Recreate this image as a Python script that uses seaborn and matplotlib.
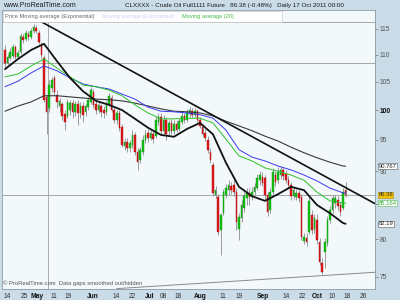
import numpy as np
import pandas as pd
import matplotlib
matplotlib.use("Agg")
import matplotlib.pyplot as plt
import seaborn as sns
from matplotlib.ticker import NullLocator
from matplotlib.patches import Rectangle

# ---------------- data (daily candles, Nov-2011 crude future) ----------------
opens = [110.9, 108.5, 109.4, 109.8, 111.5, 109.6, 110.5, 113.4, 113.0, 114.0,
         113.4, 114.6, 115.2, 114.2, 111.9, 109.4, 102.3, 100.4, 103.9, 105.7,
         102.6, 100.7, 101.1, 99.3, 99.0, 100.0, 101.2, 99.7, 101.1, 99.5,
         100.7, 99.7, 100.5, 101.4, 103.2, 101.1, 100.0, 100.7, 100.0, 99.7,
         101.1, 102.1, 100.0, 98.3, 99.5, 97.1, 94.0, 94.6, 93.7, 94.2,
         95.8, 93.0, 91.8, 93.0, 95.0, 96.1, 95.3, 96.0, 95.6, 98.0,
         98.8, 96.5, 98.3, 96.5, 97.8, 96.5, 97.6, 96.8, 98.0, 99.0,
         98.3, 99.3, 99.8, 99.2, 99.8, 98.3, 97.1, 96.1, 95.0, 93.0,
         91.0, 86.4, 86.1, 81.3, 83.7, 86.4, 87.1, 87.7, 87.9, 86.8,
         81.5, 83.0, 84.5, 85.9, 86.7, 86.1, 86.8, 87.4, 88.6, 89.1,
         88.9, 86.4, 84.2, 86.8, 89.4, 88.6, 89.4, 90.2, 89.6, 88.6,
         87.9, 86.2, 86.1, 86.7, 86.1, 79.8, 80.2, 81.0, 83.5, 81.5,
         82.7, 79.7, 76.8, 78.3, 79.5, 82.7, 84.2, 85.2, 85.6, 84.9,
         84.5, 87.1]
highs = [111.9, 110.2, 111.3, 112.1, 111.9, 110.9, 114.2, 114.0, 114.8, 114.6,
         115.2, 116.0, 115.8, 114.8, 112.5, 110.0, 102.6, 105.3, 105.9, 106.2,
         103.5, 102.1, 101.4, 100.0, 101.9, 101.8, 101.8, 101.6, 101.8, 101.4,
         101.4, 101.1, 102.3, 104.1, 103.7, 101.6, 101.4, 101.1, 100.7, 101.6,
         103.0, 102.6, 100.5, 100.0, 100.0, 97.6, 95.3, 95.3, 95.0, 96.6,
         96.3, 93.7, 93.8, 95.8, 96.6, 96.8, 96.8, 96.6, 99.0, 99.5,
         99.5, 99.2, 98.8, 98.3, 98.5, 98.3, 98.1, 98.6, 99.7, 99.5,
         100.2, 100.5, 100.4, 100.4, 100.2, 98.8, 97.6, 96.8, 95.6, 93.7,
         91.4, 87.7, 86.5, 83.7, 87.3, 88.0, 88.6, 88.3, 88.6, 87.4,
         83.7, 85.6, 86.8, 87.4, 87.4, 87.6, 88.2, 89.6, 90.0, 89.9,
         89.4, 86.8, 87.4, 90.5, 90.0, 90.6, 90.8, 90.6, 90.2, 89.3,
         88.3, 87.7, 87.3, 87.1, 86.5, 80.9, 80.9, 86.1, 84.2, 83.6,
         83.6, 80.2, 77.5, 80.2, 83.3, 84.8, 86.4, 86.4, 86.2, 85.3,
         87.4, 88.3]
lows = [107.5, 108.1, 109.0, 109.4, 109.2, 109.2, 110.2, 112.3, 112.6, 112.8,
        113.0, 114.2, 114.2, 112.1, 109.4, 101.4, 96.0, 99.7, 103.2, 102.6,
        100.4, 99.7, 98.3, 96.6, 98.6, 99.2, 98.6, 99.0, 97.5, 98.6,
        98.0, 99.0, 100.0, 101.1, 100.4, 99.3, 99.5, 98.8, 98.6, 99.2,
        100.7, 99.7, 97.8, 97.6, 96.5, 93.8, 93.4, 93.0, 93.0, 93.7,
        92.5, 90.2, 91.3, 92.5, 94.5, 94.6, 95.0, 94.5, 95.3, 97.5,
        96.0, 95.8, 95.0, 95.8, 96.0, 96.0, 96.3, 96.5, 97.6, 97.8,
        98.0, 98.8, 98.6, 98.8, 98.0, 96.9, 95.6, 94.8, 92.9, 91.3,
        86.2, 85.9, 80.6, 77.9, 83.5, 85.9, 86.4, 86.5, 86.2, 81.3,
        79.9, 82.4, 83.9, 84.9, 84.9, 85.6, 86.4, 87.1, 87.9, 87.7,
        85.6, 83.3, 83.7, 86.4, 87.7, 88.2, 88.8, 88.6, 88.2, 87.4,
        85.6, 85.8, 85.6, 85.3, 79.9, 79.4, 79.1, 80.8, 80.8, 80.9,
        79.4, 76.6, 75.4, 76.2, 79.1, 82.3, 83.7, 84.5, 84.2, 83.3,
        84.2, 86.1]
closes = [108.5, 109.6, 110.5, 111.5, 109.6, 110.3, 113.6, 112.8, 114.2, 113.4,
          114.6, 115.4, 114.6, 112.5, 110.0, 101.8, 99.7, 104.4, 105.3, 103.2,
          101.4, 101.6, 99.0, 98.0, 101.4, 101.2, 99.7, 101.1, 99.5, 100.7,
          99.2, 100.7, 101.8, 103.5, 100.9, 100.0, 100.9, 99.7, 99.5, 101.1,
          102.5, 100.0, 98.3, 99.5, 96.9, 94.2, 94.6, 93.7, 94.5, 95.8,
          93.0, 91.4, 93.4, 95.0, 95.8, 95.3, 96.1, 95.1, 98.3, 98.8,
          96.5, 98.3, 96.0, 97.8, 96.5, 97.6, 96.6, 98.1, 99.0, 98.3,
          99.7, 100.0, 99.2, 99.8, 98.3, 97.3, 96.0, 95.3, 93.4, 91.8,
          86.7, 87.1, 81.0, 83.5, 86.8, 87.4, 87.9, 87.1, 86.8, 82.4,
          83.2, 84.9, 86.2, 86.7, 86.1, 86.8, 87.6, 88.9, 89.4, 88.2,
          86.4, 83.9, 86.8, 89.9, 88.3, 89.9, 90.2, 89.3, 88.6, 87.9,
          86.2, 87.1, 86.7, 85.9, 80.3, 80.3, 79.7, 85.5, 81.3, 83.0,
          79.9, 77.0, 75.6, 79.7, 82.7, 84.2, 85.9, 85.9, 84.8, 83.9,
          86.8, 86.38]

# moving averages every 5 sessions
ma_days = [0, 5, 10, 15, 20, 25, 30, 35, 40, 45, 50, 55, 60, 65, 70, 75, 80,
           85, 90, 95, 100, 105, 110, 115, 120, 125, 130, 131]
ma_black = [107.3, 109.2, 110.9, 112.1, 108.8, 105.7, 103.3, 101.6, 100.9, 100.0,
            98.5, 97.0, 95.8, 95.5, 96.8, 97.8, 95.9, 91.3, 87.6, 86.2,
            85.5, 86.5, 87.6, 87.1, 84.9, 83.7, 82.3, 82.19]
ma_green = [105.9, 106.4, 107.9, 109.2, 107.5, 105.9, 104.4, 104.1, 103.5, 102.5,
            100.9, 99.5, 98.5, 98.5, 98.6, 98.6, 97.8, 95.1, 92.4, 91.6,
            90.5, 90.0, 89.4, 88.6, 86.8, 85.5, 85.2, 85.164]
ma_blue = [104.1, 105.1, 106.6, 107.9, 107.0, 105.7, 104.6, 104.1, 103.7, 102.8,
           101.9, 100.5, 99.8, 99.7, 99.5, 99.2, 98.6, 96.6, 93.4, 92.2,
           91.6, 90.8, 90.2, 89.4, 88.5, 87.4, 86.7, 86.7]
ma_slow = [99.8, 100.7, 101.4, 102.5, 102.5, 102.3, 102.1, 101.9, 101.8, 101.6,
           101.2, 100.7, 100.2, 99.8, 99.7, 99.5, 99.0, 98.1, 97.3, 96.5,
           95.6, 94.8, 93.8, 92.9, 92.1, 91.4, 90.8, 90.767]

# drawn trend lines / levels
trend_days = [12.7, 142.3]
trend_prices = [116.8, 85.1]
support_days = [43.0, 142.3]
support_prices = [73.5, 75.6]
hlines_prices = [116.4, 108.4]
last_price = 86.38
vline_day = 16.5

tick_pos = [0.8, 7.3, 12.3, 18.8, 24.2, 33.8, 42.7, 48.8, 55.8, 60.8, 66.5,
            75.0, 83.8, 90.0, 99.2, 108.1, 114.2, 120.0, 125.8, 131.5, 137.7]
tick_labels = ['14', '25', 'May', '11', '19', 'Jun', '14', '22', 'Jul', '08', '18',
               'Aug', '11', '19', 'Sep', '14', '22', 'Oct', '10', '18', '26']
y_ticks = [75, 80, 85, 90, 95, 100, 105, 110, 115]
y_tick_labels = ['75', '80', '', '90', '95', '100', '105', '110', '115']

# ---------------- drawing ----------------
sns.set_theme(style="white")
plt.rcParams['font.family'] = ['Liberation Sans', 'DejaVu Sans']

BG = '#c9dce7'
fig = plt.figure(figsize=(4, 3), dpi=100, facecolor=BG)
ax = fig.add_axes([2 / 400, 11 / 300, 373 / 400, 279 / 300])
ax.set_facecolor('#f3f8fb')
ax.set_yscale('log')

df = pd.DataFrame(dict(day=np.arange(len(closes)), open=opens, high=highs,
                       low=lows, close=closes))
up = (df['close'] >= df['open']).values

# reference lines
for p in hlines_prices:
    ax.axhline(p, color='#9a9a9a', lw=0.6, zorder=1)
ax.axhline(last_price, color='#9a9a9a', lw=0.6, zorder=1)
ax.axvline(vline_day, color='#a0a0a0', lw=0.6, zorder=1)

# candles
ax.vlines(df['day'], df['low'], df['high'], color='#8c8c8c', lw=0.6, zorder=2)
body_lo = np.minimum(df['open'], df['close'])
body_h = np.maximum(np.abs(df['close'] - df['open']), 0.12)
ax.bar(df['day'], body_h, bottom=body_lo, width=0.68,
       color=np.where(up, '#14c414', '#e01818'),
       edgecolor=np.where(up, '#0b8f0b', '#a81010'), linewidth=0.3, zorder=3)

# moving averages
ma = pd.DataFrame(dict(day=ma_days, black=ma_black, green=ma_green,
                       blue=ma_blue, slow=ma_slow))
sns.lineplot(data=ma, x='day', y='slow', color='#3a3a3a', linewidth=0.8, ax=ax, zorder=4)
sns.lineplot(data=ma, x='day', y='blue', color='#3a3af0', linewidth=0.7, ax=ax, zorder=4)
sns.lineplot(data=ma, x='day', y='green', color='#2cc02c', linewidth=0.7, ax=ax, zorder=4)
sns.lineplot(data=ma, x='day', y='black', color='#111111', linewidth=1.3, ax=ax, zorder=5)

# trend lines
tl = pd.DataFrame(dict(day=trend_days, price=trend_prices))
sns.lineplot(data=tl, x='day', y='price', color='#111111', linewidth=1.2, ax=ax, zorder=5)
sl = pd.DataFrame(dict(day=support_days, price=support_prices))
sns.lineplot(data=sl, x='day', y='price', color='#8a8a8a', linewidth=0.7, ax=ax, zorder=2)

ax.set_xlim(-1.154, 142.31)
ax.set_ylim(73.45, 118.83)
ax.set_xlabel('')
ax.set_ylabel('')

# axes styling
for s in ax.spines.values():
    s.set_color('#8c9ba5')
    s.set_linewidth(0.6)

ax.yaxis.tick_right()
ax.set_yticks(y_ticks)
ax.set_yticklabels(y_tick_labels)
ax.yaxis.set_minor_locator(NullLocator())
ax.tick_params(axis='y', which='major', direction='out', length=2.5, width=0.5,
               color='#777777', labelcolor='#555555', labelsize=4.8, pad=1,
               right=True, left=False)
for lab in ax.get_yticklabels():
    if lab.get_text() == '100':
        lab.set_fontweight('bold')
        lab.set_color('#111111')

ax.set_xticks(tick_pos)
ax.set_xticklabels(tick_labels)
ax.xaxis.set_minor_locator(NullLocator())
ax.tick_params(axis='x', length=0, labelsize=4.8, pad=3, labelcolor='#333333')
for lab in ax.get_xticklabels():
    if lab.get_text().isalpha():
        lab.set_fontweight('bold')
        lab.set_color('#111111')

# price boxes on the right
yt = ax.get_yaxis_transform()
boxes = [(ma_slow[-1], '90.767', 'white', '#555555', '#222222'),
         (last_price, '86.38', '#f2c200', '#b08c00', '#333333'),
         (ma_green[-1], '85.164', 'white', '#55bb55', '#33aa33'),
         (ma_black[-1], '82.19', 'white', '#555555', '#222222')]
for val, txt, fc, ec, tc in boxes:
    ax.text(1.009, val, txt, transform=yt, ha='left', va='center', fontsize=4.2,
            color=tc, zorder=10, clip_on=False,
            bbox=dict(boxstyle='square,pad=0.08', fc=fc, ec=ec, lw=0.4))

# header
fig.text(3 / 400, 1 - 5.5 / 300, 'www.ProRealTime.com', fontsize=5.0,
         color='#1a1a1a', va='center', ha='left')
fig.text(125 / 400, 1 - 5.5 / 300,
         'CLXXXX - Crude Oil Full1111 Future   86.38 (-0.48%)   Daily 17 Oct 2011 00:00',
         fontsize=4.5, color='#1a1a1a', va='center', ha='left')

# legend strip
fig.patches.append(Rectangle((3 / 400, 1 - 22 / 300), 279 / 400, 11.5 / 300,
                             transform=fig.transFigure, fc='white', ec='#c0c0c0',
                             lw=0.4, zorder=5))
fig.text(5 / 400, 1 - 16.2 / 300, 'Price Moving average (Exponential)', fontsize=4.1,
         color='#666666', va='center', ha='left', zorder=6)
fig.text(102 / 400, 1 - 16.2 / 300, 'Moving average (Exponential)', fontsize=3.9,
         color='#d0d0f0', va='center', ha='left', zorder=6)
fig.text(182 / 400, 1 - 16.2 / 300, 'Moving average (20)', fontsize=4.1,
         color='#44bb44', va='center', ha='left', zorder=6)

ax.text(1 / 373, 6 / 279, '\u00a9 ProRealTime.com  Data gaps smoothed out/hidden',
        transform=ax.transAxes, fontsize=4.2, color='#555555', va='center',
        ha='left', zorder=6)

fig.savefig('out.png', dpi=100, facecolor=BG)
